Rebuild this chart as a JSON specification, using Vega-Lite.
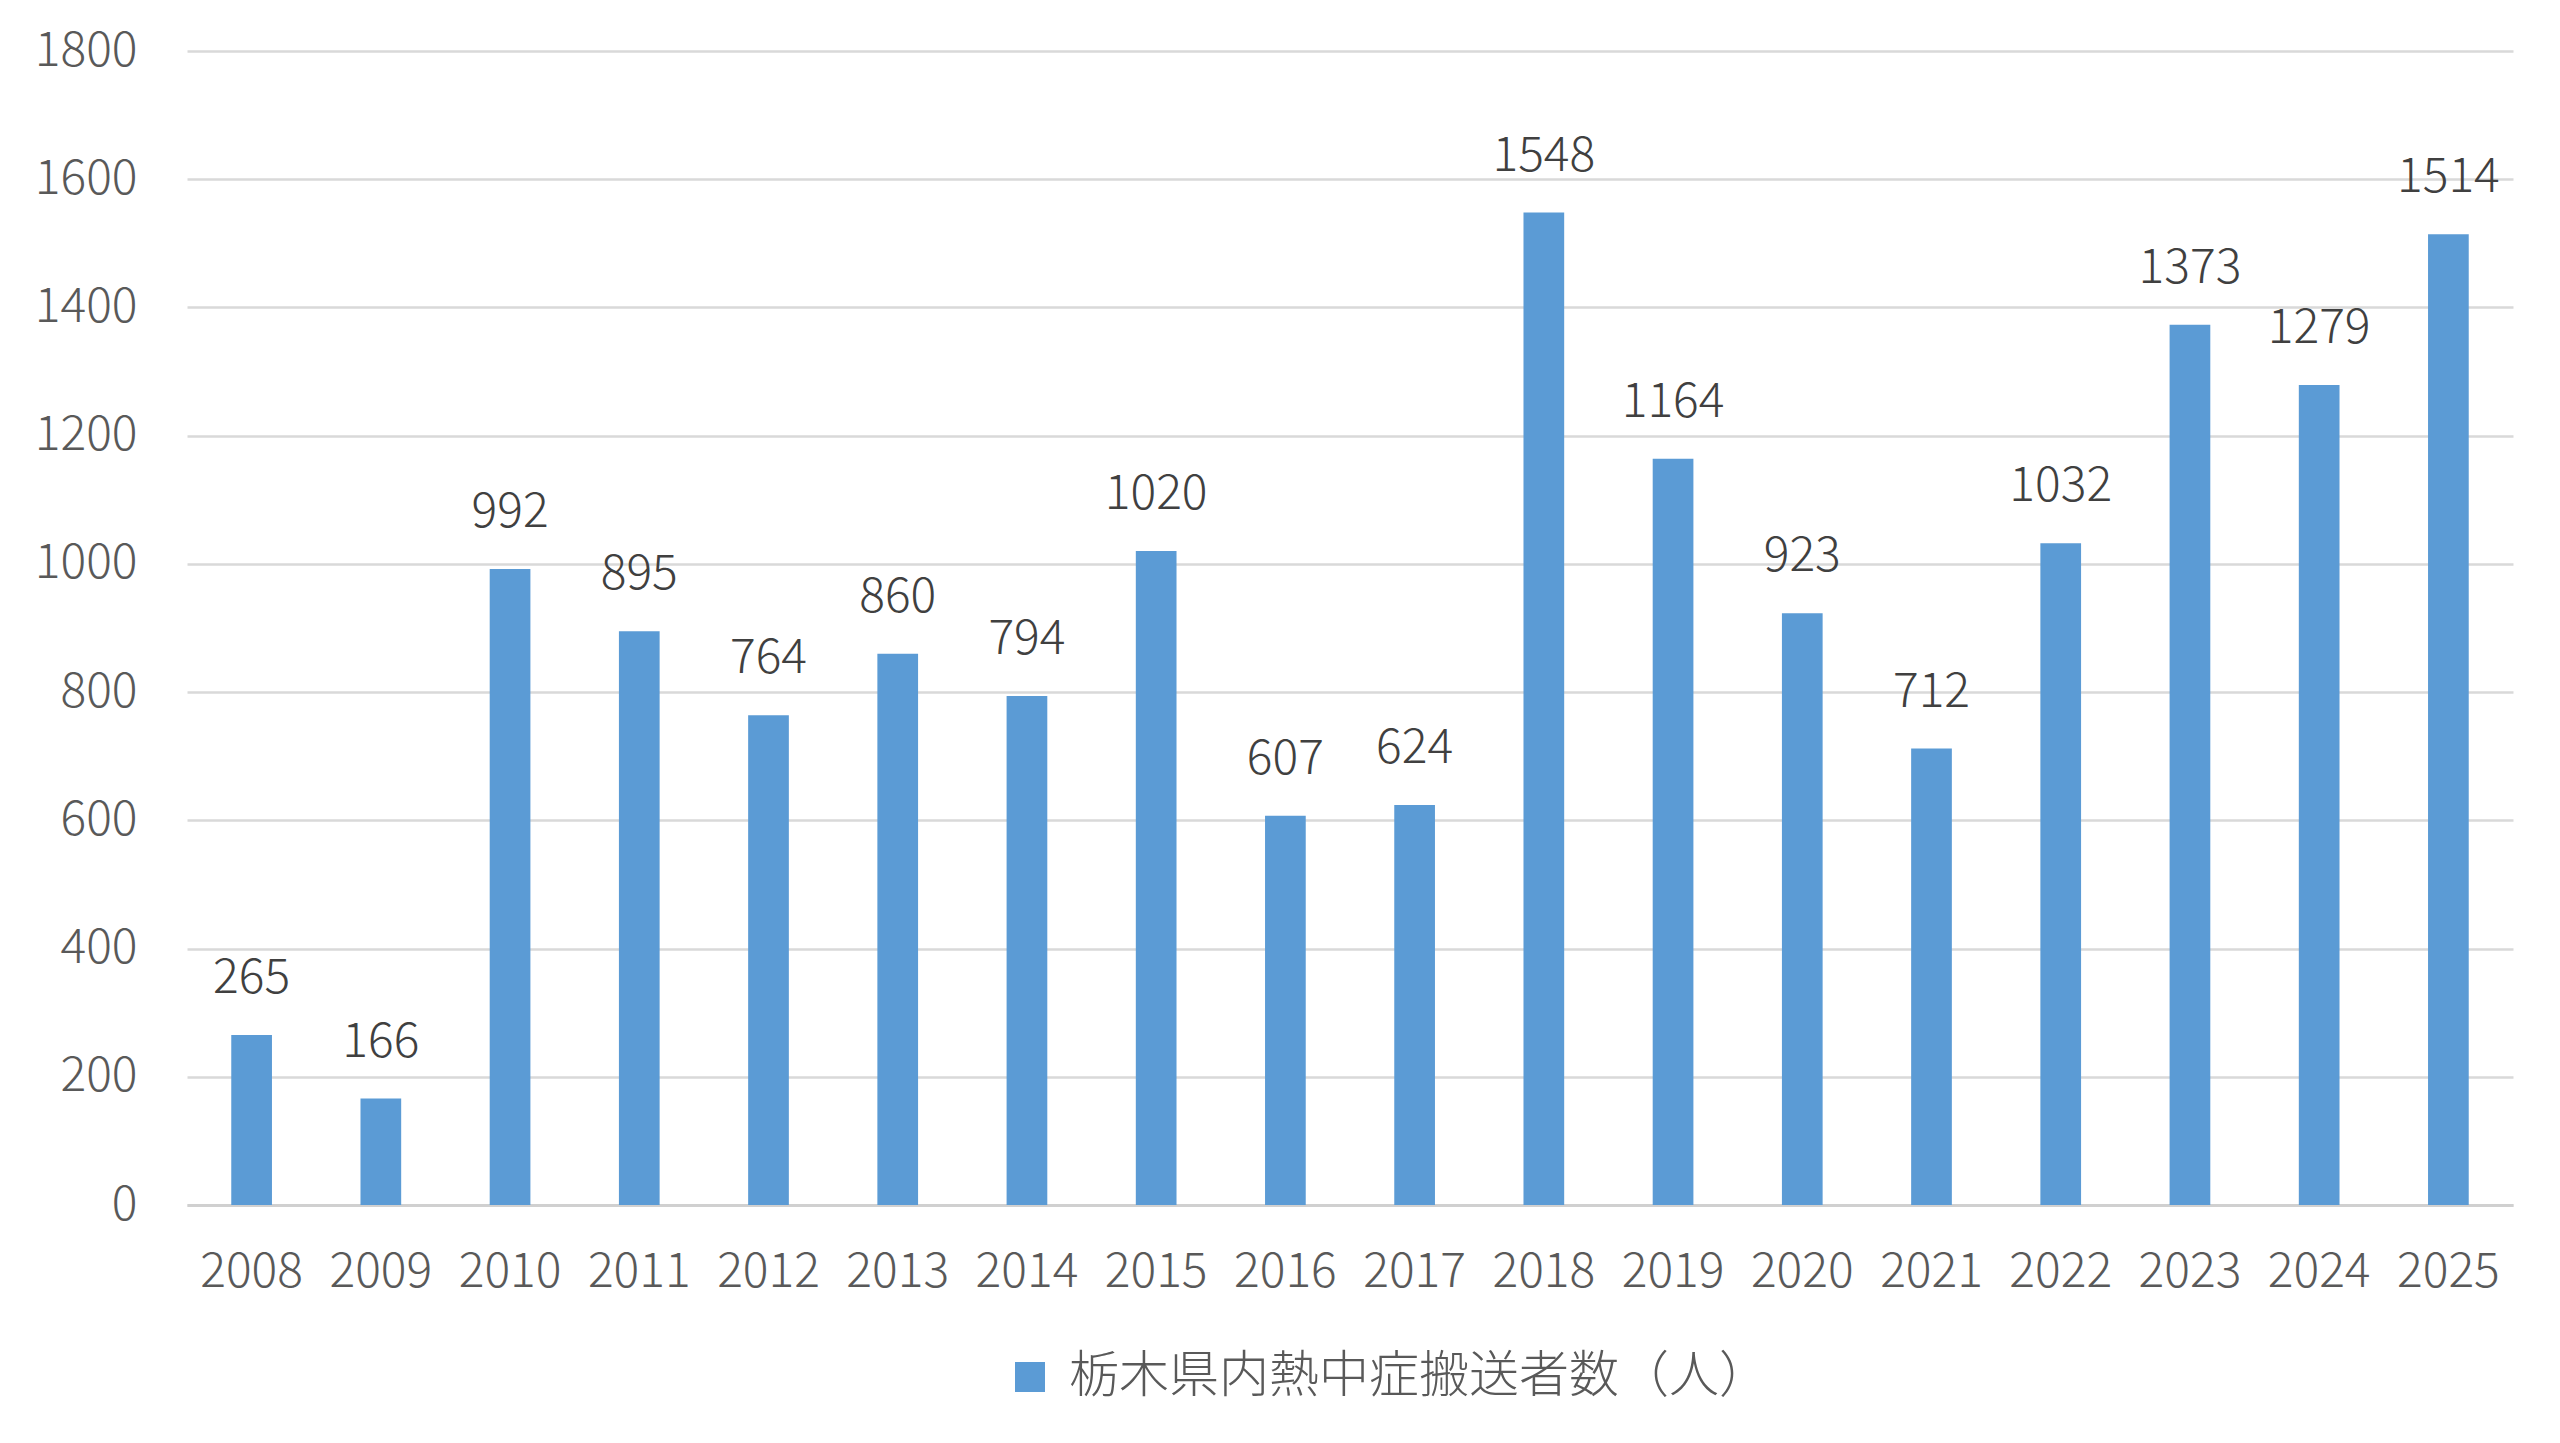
{
  "$schema": "https://vega.github.io/schema/vega-lite/v6.json",
  "width": 2326,
  "height": 1154,
  "autosize": {"type": "none"},
  "padding": {"left": 187, "top": 51, "right": 47, "bottom": 238},
  "background": "white",
  "config": {
    "view": {"stroke": null},
    "font": "Noto Sans CJK JP"
  },
  "data": {
    "values": [
      {"year": "2008", "count": 265},
      {"year": "2009", "count": 166},
      {"year": "2010", "count": 992},
      {"year": "2011", "count": 895},
      {"year": "2012", "count": 764},
      {"year": "2013", "count": 860},
      {"year": "2014", "count": 794},
      {"year": "2015", "count": 1020},
      {"year": "2016", "count": 607},
      {"year": "2017", "count": 624},
      {"year": "2018", "count": 1548},
      {"year": "2019", "count": 1164},
      {"year": "2020", "count": 923},
      {"year": "2021", "count": 712},
      {"year": "2022", "count": 1032},
      {"year": "2023", "count": 1373},
      {"year": "2024", "count": 1279},
      {"year": "2025", "count": 1514}
    ]
  },
  "encoding": {
    "x": {
      "field": "year",
      "type": "nominal",
      "scale": {"paddingInner": 0.685, "paddingOuter": 0.3425},
      "axis": {
        "title": null,
        "labelAngle": 0,
        "labelFontSize": 48,
        "labelFontWeight": 300,
        "labelColor": "#595959",
        "labelPadding": 43,
        "ticks": false,
        "domainColor": "#D0D0D0",
        "domainWidth": 3,
        "grid": false
      }
    },
    "y": {
      "field": "count",
      "type": "quantitative",
      "scale": {"domain": [0, 1800], "nice": false},
      "axis": {
        "title": null,
        "format": "d",
        "values": [0, 200, 400, 600, 800, 1000, 1200, 1400, 1600, 1800],
        "labelFontSize": 48,
        "labelFontWeight": 300,
        "labelColor": "#595959",
        "labelPadding": 50,
        "ticks": false,
        "domain": false,
        "gridColor": "#D9D9D9",
        "gridWidth": 2.5
      }
    }
  },
  "layer": [
    {
      "mark": {"type": "bar"},
      "encoding": {
        "color": {
          "datum": "栃木県内熱中症搬送者数（人）",
          "type": "nominal",
          "scale": {"range": ["#5B9BD5"]},
          "legend": {
            "title": null,
            "orient": "none",
            "legendX": 818,
            "legendY": 1301,
            "symbolType": "square",
            "symbolSize": 900,
            "symbolStrokeWidth": 0,
            "labelFontSize": 50,
            "labelFontWeight": 300,
            "labelColor": "#595959",
            "labelLimit": 1000,
            "labelOffset": 14
          }
        }
      }
    },
    {
      "mark": {"type": "text", "baseline": "alphabetic", "dy": -42, "fontSize": 48, "fontWeight": 300, "color": "#404040"},
      "encoding": {"text": {"field": "count", "type": "quantitative", "format": "d"}}
    }
  ]
}
